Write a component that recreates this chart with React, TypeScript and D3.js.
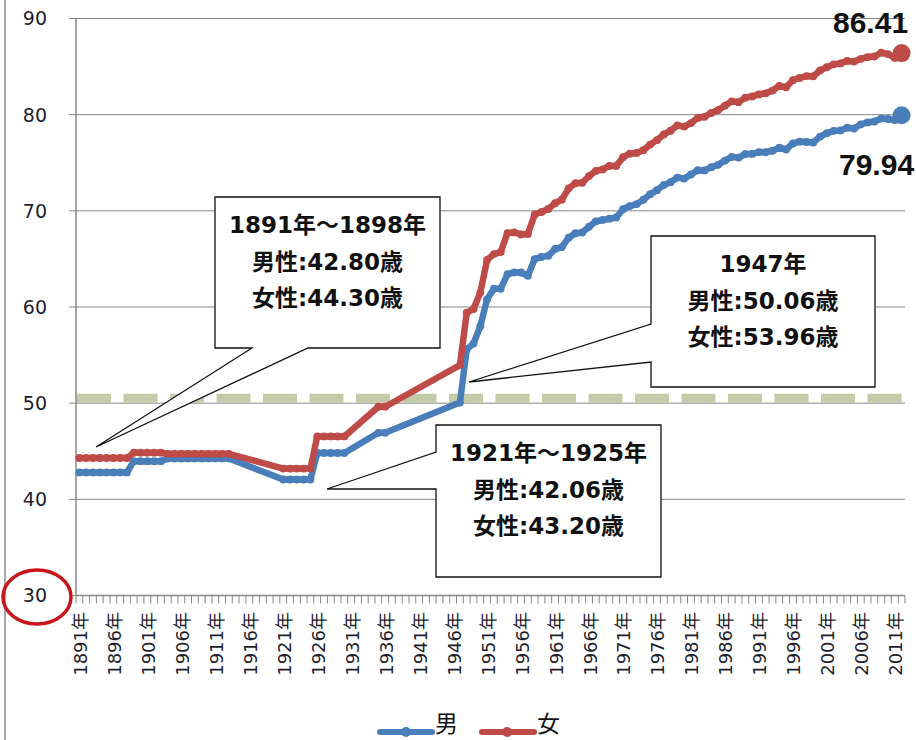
import React from "react";
import * as d3 from "d3";

// ---------- data ----------
const FIRST_YEAR = 1891;
const LAST_YEAR = 2012;

// life tables before 1947 (flat periods repeated per year, gaps joined by straight lines)
const preWarYears = [
  1891, 1892, 1893, 1894, 1895, 1896, 1897, 1898,
  1899, 1900, 1901, 1902, 1903,
  1904, 1905, 1906, 1907, 1908, 1909, 1910, 1911, 1912, 1913,
  1921, 1922, 1923, 1924, 1925,
  1926, 1927, 1928, 1929, 1930,
  1935, 1936,
];
const preWarMale = [
  42.8, 42.8, 42.8, 42.8, 42.8, 42.8, 42.8, 42.8,
  43.97, 43.97, 43.97, 43.97, 43.97,
  44.25, 44.25, 44.25, 44.25, 44.25, 44.25, 44.25, 44.25, 44.25, 44.25,
  42.06, 42.06, 42.06, 42.06, 42.06,
  44.82, 44.82, 44.82, 44.82, 44.82,
  46.92, 46.92,
];
const preWarFemale = [
  44.3, 44.3, 44.3, 44.3, 44.3, 44.3, 44.3, 44.3,
  44.85, 44.85, 44.85, 44.85, 44.85,
  44.73, 44.73, 44.73, 44.73, 44.73, 44.73, 44.73, 44.73, 44.73, 44.73,
  43.2, 43.2, 43.2, 43.2, 43.2,
  46.54, 46.54, 46.54, 46.54, 46.54,
  49.63, 49.63,
];

// 1947 .. 2012, one value per year
const postWarMale = [
  50.06, 55.6, 56.2, 58.0, 60.8, 61.9, 61.9, 63.41, 63.6, 63.59,
  63.24, 64.98, 65.21, 65.32, 66.03, 66.23, 67.21, 67.67, 67.74, 68.35,
  68.91, 69.05, 69.18, 69.31, 70.17, 70.5, 70.7, 71.16, 71.73, 72.15,
  72.69, 72.97, 73.46, 73.35, 73.79, 74.22, 74.2, 74.54, 74.78, 75.23,
  75.61, 75.54, 75.91, 75.92, 76.11, 76.09, 76.25, 76.57, 76.38, 77.01,
  77.19, 77.16, 77.1, 77.72, 78.07, 78.32, 78.36, 78.64, 78.56, 79.0,
  79.19, 79.29, 79.59, 79.55, 79.44, 79.94,
];
const postWarFemale = [
  53.96, 59.4, 59.8, 61.5, 64.9, 65.5, 65.7, 67.69, 67.75, 67.54,
  67.6, 69.61, 69.88, 70.19, 70.79, 71.16, 72.34, 72.87, 72.92, 73.61,
  74.15, 74.3, 74.67, 74.66, 75.58, 75.94, 76.02, 76.31, 76.89, 77.35,
  77.95, 78.33, 78.89, 78.76, 79.13, 79.66, 79.78, 80.18, 80.48, 80.93,
  81.39, 81.3, 81.77, 81.9, 82.11, 82.22, 82.51, 82.98, 82.85, 83.59,
  83.82, 84.01, 83.99, 84.6, 84.93, 85.23, 85.33, 85.59, 85.52, 85.81,
  85.99, 86.05, 86.44, 86.3, 85.9, 86.41,
];

const yTicks = [30, 40, 50, 60, 70, 80, 90];
const xTickYears = [
  1891, 1896, 1901, 1906, 1911, 1916, 1921, 1926, 1931, 1936, 1941, 1946,
  1951, 1956, 1961, 1966, 1971, 1976, 1981, 1986, 1991, 1996, 2001, 2006, 2011,
];
const refLineValue = 50.5;

const seriesNames = ["男", "女"];
const endLabels = ["79.94", "86.41"];

const callout1 = ["1891年～1898年", "男性:42.80歳", "女性:44.30歳"];
const callout2 = ["1947年", "男性:50.06歳", "女性:53.96歳"];
const callout3 = ["1921年～1925年", "男性:42.06歳", "女性:43.20歳"];

// ---------- layout ----------
const W = 916;
const H = 740;
const PLOT_L = 76;
const PLOT_R = 905;
const PLOT_T = 18.5;
const PLOT_B = 595.5;

const BLUE = "#4A7EBB";
const RED = "#BE4B48";
const GRID = "#878787";

const FONT_AX = "'DejaVu Sans', 'Noto Sans CJK JP', sans-serif";
const FONT_BOX = "'DejaVu Sans', 'Noto Sans CJK JP', sans-serif";
const FONT_CJK = "'Noto Sans CJK JP', sans-serif";

export default function App() {
  const categories = d3.range(FIRST_YEAR, LAST_YEAR + 1);
  const x = d3.scaleBand<number>().domain(categories).range([PLOT_L, PLOT_R]).padding(0);
  const cx = (yr: number) => (x(yr) as number) + x.bandwidth() / 2;
  const y = d3.scaleLinear().domain([30, 90]).range([PLOT_B, PLOT_T]);

  const postYears = d3.range(1947, LAST_YEAR + 1);
  const allYears = preWarYears.concat(postYears);
  const maleVals = preWarMale.concat(postWarMale);
  const femaleVals = preWarFemale.concat(postWarFemale);

  const male = allYears.map((yr, i) => ({ yr, v: maleVals[i] }));
  const female = allYears.map((yr, i) => ({ yr, v: femaleVals[i] }));

  const line = d3
    .line<{ yr: number; v: number }>()
    .x((d) => cx(d.yr))
    .y((d) => y(d.v));

  const boundaries = categories.map((c) => x(c) as number).concat([PLOT_R]);

  const lastM = male[male.length - 1];
  const lastF = female[female.length - 1];

  const renderSeries = (data: { yr: number; v: number }[], color: string) => (
    <g>
      <path d={line(data) || ""} fill="none" stroke={color} strokeWidth={6.5} strokeLinejoin="round" strokeLinecap="round" />
      {data.map((d, i) => (
        <circle key={i} cx={cx(d.yr)} cy={y(d.v)} r={3.9} fill={color} />
      ))}
    </g>
  );

  const boxText = (lines: string[], centerX: number, top: number) =>
    lines.map((t, i) => (
      <text
        key={i}
        x={centerX}
        y={top + 36 + i * 36.5}
        textAnchor="middle"
        fontFamily={FONT_BOX}
        fontWeight="bold"
        fontSize={23}
        fill="#111"
      >
        {t}
      </text>
    ));

  return (
    <svg
      width={W}
      height={H}
      style={{ position: "absolute", left: 0, top: 0, background: "#fff" }}
      xmlns="http://www.w3.org/2000/svg"
    >
      <rect x={0} y={0} width={W} height={H} fill="#fff" />
      {/* outer frame left edge */}
      <line x1={5} x2={5} y1={0} y2={H} stroke="#8a8a8a" strokeWidth={1.5} />

      {/* gridlines + y ticks */}
      {yTicks.map((t) => (
        <g key={t}>
          <line
            x1={PLOT_L - 7}
            x2={t === 30 ? PLOT_L : PLOT_R}
            y1={y(t)}
            y2={y(t)}
            stroke={GRID}
            strokeWidth={1}
          />
          <text
            x={47}
            y={y(t)}
            dy="0.36em"
            textAnchor="end"
            fontFamily={FONT_AX}
            fontSize={19}
            fill="#1e1e2e"
          >
            {t}
          </text>
        </g>
      ))}

      {/* axes */}
      <line x1={PLOT_L} x2={PLOT_L} y1={PLOT_T} y2={PLOT_B} stroke={GRID} strokeWidth={1.5} />
      <line x1={PLOT_L} x2={PLOT_R} y1={PLOT_B} y2={PLOT_B} stroke={GRID} strokeWidth={1.5} />
      {boundaries.map((bx, i) => (
        <line key={i} x1={bx} x2={bx} y1={PLOT_B} y2={PLOT_B + 8} stroke={GRID} strokeWidth={1} />
      ))}
      {xTickYears.map((yr) => (
        <text
          key={yr}
          transform={`translate(${cx(yr) + 1},${612}) rotate(-90)`}
          textAnchor="end"
          dy="0.36em"
          fontFamily={FONT_AX}
          fontSize={18}
          fill="#1e1e2e"
        >
          {`${yr}年`}
        </text>
      ))}

      {/* dashed reference band */}
      <line
        x1={PLOT_L + 1}
        x2={PLOT_R}
        y1={y(refLineValue)}
        y2={y(refLineValue)}
        stroke="#C4CBA9"
        strokeWidth={9}
        strokeDasharray="34 12.5"
      />

      {/* callouts */}
      <path
        d={`M215,197 H440 V348 H308 L96,447 L252,348 H215 Z`}
        fill="#fff"
        stroke="#111"
        strokeWidth={1.3}
      />
      {boxText(callout1, 327.5, 197)}

      {/* series */}
      {renderSeries(male, BLUE)}
      {renderSeries(female, RED)}
      <circle cx={cx(lastM.yr)} cy={y(lastM.v)} r={9} fill={BLUE} />
      <circle cx={cx(lastF.yr)} cy={y(lastF.v)} r={9} fill={RED} />

      <path
        d={`M651,236 H875 V387 H651 V362 L469,382 L651,324 Z`}
        fill="#fff"
        stroke="#111"
        strokeWidth={1.3}
      />
      {boxText(callout2, 763, 236)}

      <path
        d={`M436,425 H661 V577 H436 V489 L327,489 L436,452 Z`}
        fill="#fff"
        stroke="#111"
        strokeWidth={1.3}
      />
      {boxText(callout3, 548.5, 425)}

      {/* end labels */}
      <text
        x={833}
        y={33}
        fontFamily="'Liberation Sans', Arial, sans-serif"
        fontWeight="bold"
        fontSize={30}
        fill="#111"
      >
        {endLabels[1]}
      </text>
      <text
        x={839}
        y={175}
        fontFamily="'Liberation Sans', Arial, sans-serif"
        fontWeight="bold"
        fontSize={30}
        fill="#111"
      >
        {endLabels[0]}
      </text>

      {/* highlighted 30 label */}
      <ellipse cx={37} cy={597} rx={34} ry={27} fill="none" stroke="#C8161D" strokeWidth={3.5} />

      {/* legend */}
      <g>
        <line x1={380} x2={432} y1={732} y2={732} stroke={BLUE} strokeWidth={6} strokeLinecap="round" />
        <circle cx={406} cy={732} r={5} fill={BLUE} />
        <text x={435} y={732} fontFamily={FONT_CJK} fontSize={23} fill="#111">
          {seriesNames[0]}
        </text>
        <line x1={482} x2={534} y1={732} y2={732} stroke={RED} strokeWidth={6} strokeLinecap="round" />
        <circle cx={507} cy={732} r={5} fill={RED} />
        <text x={537} y={732} fontFamily={FONT_CJK} fontSize={23} fill="#111">
          {seriesNames[1]}
        </text>
      </g>
    </svg>
  );
}
